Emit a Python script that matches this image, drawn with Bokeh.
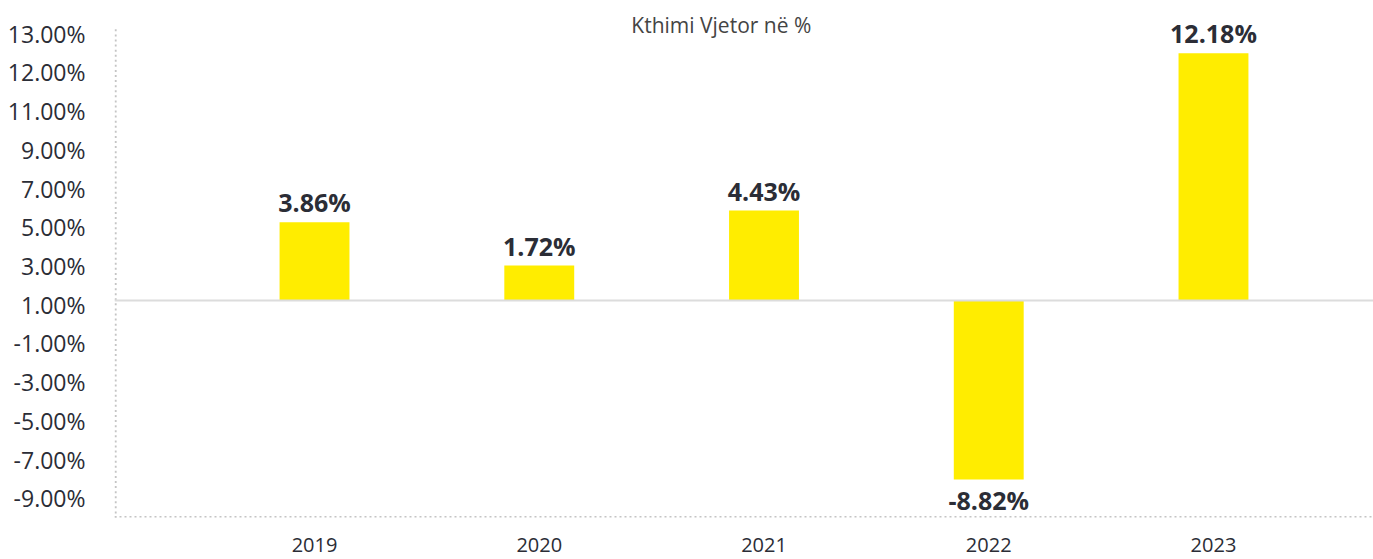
import numpy as np
from bokeh.plotting import figure
from bokeh.models import ColumnDataSource, FixedTicker, Span, Label
from bokeh.core.properties import value
from bokeh.embed import file_html
from bokeh.resources import INLINE

# ---- data ----
years = ["2019", "2020", "2021", "2022", "2023"]
returns = [3.86, 1.72, 4.43, -8.82, 12.18]
ytick_labels = ["13.00%", "12.00%", "11.00%", "9.00%", "7.00%", "5.00%", "3.00%",
                "1.00%", "-1.00%", "-3.00%", "-5.00%", "-7.00%", "-9.00%"]
title_text = "Kthimi Vjetor në %"

FONT = "Open Sans"
DARK = "#2b2d36"
YELLOW = "#FFED00"
AXIS = "#c4c4c4"

xs = list(range(len(years)))
labels = [f"{v:.2f}%" for v in returns]
baselines = ["bottom" if v >= 0 else "top" for v in returns]
offsets = [-3 if v >= 0 else 3 for v in returns]

src = ColumnDataSource(dict(x=xs, top=returns, label=labels,
                            baseline=baselines, yoff=offsets))

x_start, x_end = -0.89, 4.712
y_start, y_end = -10.69, 14.78
axis_top = 13.5          # where the dotted left axis line starts
tick_pos = [round(t, 3) for t in np.linspace(13.15, -9.75, len(ytick_labels))]

p = figure(width=1373, height=559, output_backend="svg", toolbar_location=None,
           x_range=(x_start, x_end), y_range=(y_start, y_end),
           min_border_left=114, min_border_right=0, min_border_top=0,
           min_border_bottom=42)
p.outline_line_color = None
p.grid.visible = False
p.background_fill_color = "white"
p.border_fill_color = "white"

# dotted left axis line as small square dots
dot_y = np.arange(y_start, axis_top, 0.25)
p.scatter(x=np.full(len(dot_y), x_start + 0.005), y=dot_y, marker="square",
          size=2, fill_color=AXIS, line_color=None)

# white mask along the frame's right edge
p.quad(left=[x_end - 0.025], right=[x_end + 0.01], bottom=[y_start], top=[y_end],
       fill_color="white", line_color=None)

# dotted bottom axis line
p.segment(x0=[x_start], y0=[y_start], x1=[x_end], y1=[y_start],
          line_color=AXIS, line_dash="2 3", line_width=3)

p.vbar(x="x", top="top", bottom=0, width=0.311, source=src,
       fill_color=YELLOW, line_color=None)

p.add_layout(Span(location=0, dimension="width", line_color="#dcdcdc", line_width=2))

r = p.text(x="x", y="top", text="label", source=src, text_align="center",
           text_baseline="bottom", y_offset="yoff",
           text_font=value(FONT), text_font_style="bold", text_font_size="25px",
           text_color=DARK)
r.glyph.text_baseline = {"field": "baseline"}

# axes
p.xaxis.ticker = FixedTicker(ticks=xs)
p.xaxis.major_label_overrides = {i: y for i, y in enumerate(years)}
p.yaxis.ticker = FixedTicker(ticks=tick_pos)
p.yaxis.major_label_overrides = {t: l for t, l in zip(tick_pos, ytick_labels)}

for ax in (p.xaxis[0], p.yaxis[0]):
    ax.axis_line_color = None
    ax.major_tick_line_color = None
    ax.minor_tick_line_color = None
    ax.major_label_text_font = FONT
    ax.major_label_text_color = DARK
p.xaxis.major_label_text_font_size = "20px"
p.xaxis.major_label_standoff = 14
p.yaxis.major_label_text_font_size = "23px"
p.yaxis.major_label_standoff = 23

p.add_layout(Label(x=1.81, y=y_end, text=title_text, text_align="center",
                   text_baseline="top", y_offset=-10, text_font=FONT,
                   text_font_size="21px", text_color="#444444"))

open("out.html", "w").write(file_html(p, INLINE))
